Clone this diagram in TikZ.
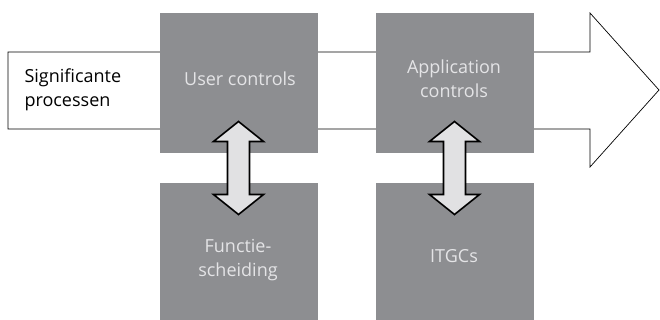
\documentclass[tikz,border=0pt]{standalone}
\usepackage{fontspec}
\setmainfont{Open Sans}
\usetikzlibrary{positioning,calc}

\definecolor{boxgray}{HTML}{8D8E91}
\definecolor{boxtext}{HTML}{E4E4E6}
\definecolor{arrowfill}{HTML}{E1E1E3}

\tikzset{
  control/.style={fill=boxgray,inner sep=0pt,minimum width=158pt,minimum height=140pt},
  ctext/.style={text=boxtext,align=center,font=\fontsize{18}{24}\selectfont},
  link/.style={draw=black,fill=arrowfill,line width=1.6pt,line join=miter},
}
% dubbele pijl rond een middelpunt
\newcommand{\linkarrow}[1]{%
  \draw[link] ($(#1)+(0,46.5)$) -- ++(25,-20) -- ++(-14,0) -- ++(0,-53) -- ++(14,0)
    -- ($(#1)+(0,-46.5)$) -- ++(-25,20) -- ++(14,0) -- ++(0,53) -- ++(-14,0) -- cycle;}

\begin{document}
\begin{tikzpicture}[x=1pt,y=1pt]
  \useasboundingbox (0,0) rectangle (660,320);
  % proces pijl
  \draw[fill=white,line width=0.7pt] (8,268) -- (590,268) -- (590,307) -- (659,230)
    -- (590,153) -- (590,191) -- (8,191) -- cycle;
  \node[anchor=west,align=left,font=\fontsize{18}{24}\selectfont] (proc) at (21,230) {Significante\\processen};

  \node[control] (uc) at (238.5,237) {};
  \node[control] (ac) at (454.5,237) {};
  \node[control,minimum height=137pt] (fs) at (238.5,68.5) {};
  \node[control,minimum height=137pt] (it) at (454.5,68.5) {};

  \node[ctext] (uctext) at (240,241) {User controls};
  \node[ctext] (actext) at (454,241) {Application\\controls};
  \node[ctext] (fstext) at (238,60) {Functie-\\scheiding};
  \node[ctext] (ittext) at (454,64) {ITGCs};

  \coordinate (m1) at ($(uc.south)!0.5!(fs.north)$);
  \coordinate (m2) at ($(ac.south)!0.5!(it.north)$);
  \linkarrow{m1}
  \linkarrow{m2}
\end{tikzpicture}
\end{document}
